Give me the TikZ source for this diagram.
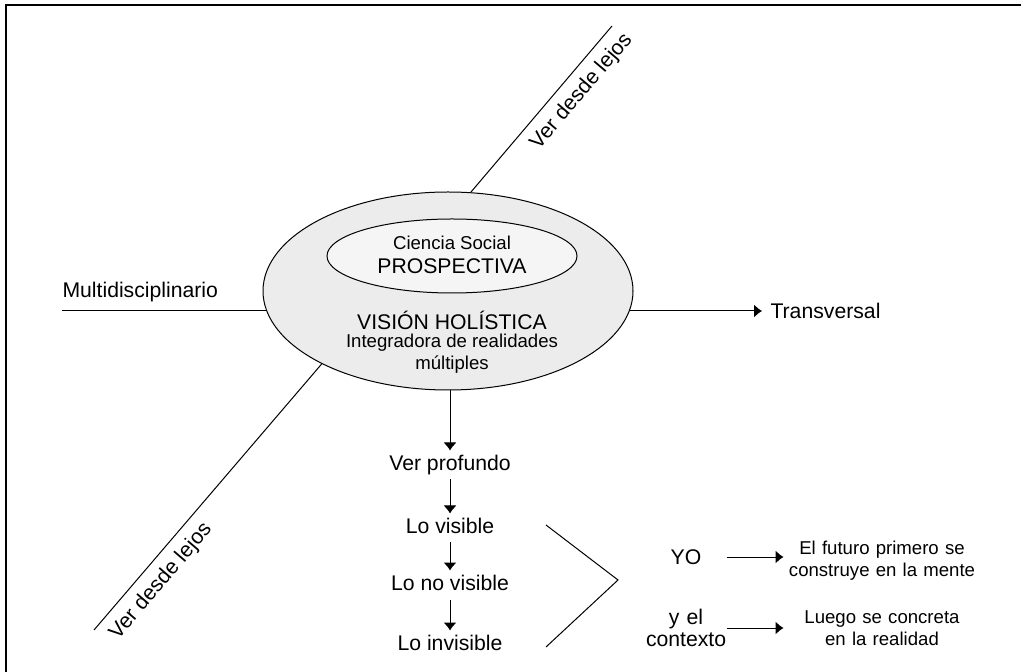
\documentclass[tikz,border=0pt]{standalone}
\usepackage{fontspec}
\setmainfont{Liberation Sans}
\usetikzlibrary{shapes.geometric,arrows.meta,calc}
\newcommand{\gross}{\fontsize{10.6}{10.8}\selectfont}
\newcommand{\klein}{\fontsize{9.3}{11}\selectfont}
\tikzset{
  outerell/.style = {ellipse, draw, fill=gray!15,
                     minimum width=185pt, minimum height=99pt, inner sep=0pt},
  innerell/.style = {ellipse, draw, fill=gray!8,
                     minimum width=125pt, minimum height=37pt, inner sep=0pt},
  big/.style      = {font=\gross, align=center, inner sep=0pt},
  small/.style    = {font=\klein, align=center, inner sep=0pt},
  colnode/.style  = {big, text height=7.8pt, text depth=2.2pt, inner ysep=2pt},
  side/.style     = {big, text width=40pt},
  result/.style   = {small, text width=98pt},
  arr/.style      = {-{Latex[length=4pt,width=6.5pt]}}
}

\begin{document}
\begin{tikzpicture}[x=0.5pt, y=-0.5pt, line width=0.5pt]
  \useasboundingbox (0,0) rectangle (1021,672);
  % frame
  \draw[line width=0.9pt] (1021,5) -- (6,5) -- (6,672);

  % the two ellipses
  \node[outerell] (holis) at (448,291) {};
  \node[innerell] (prosp) at (452,256) {};
  \node[small] (ciencia) at (452,243) {Ciencia Social};
  \node[big]   (prospectiva) at (452,266) {PROSPECTIVA};
  \node[big]   (vision) at (452,320) {VISIÓN HOLÍSTICA};
  \node[small] (integ) at (452,354) {Integradora de realidades\\múltiples};

  % side branches
  \coordinate (farup) at (612,26);
  \coordinate (fardown) at (94,630);
  \coordinate (multiend) at (62,311);
  \draw (holis.77) -- (farup)
    node[pos=0.68, below, sloped, font=\gross, inner sep=4.5pt] {Ver desde lejos};
  \draw (fardown) -- (holis.210)
    node[pos=0.23, below, sloped, font=\gross, inner sep=4.5pt] {Ver desde lejos};
  \node[big, anchor=west] (multi) at (62,292) {Multidisciplinario};
  \draw (multiend) -- (multiend -| holis.186);
  \node[big, anchor=west, inner xsep=4pt] (trans) at (762,311) {Transversal};
  \draw[arr] (trans.west -| holis.354) -- (trans.west);

  % looking deep
  \node[colnode] (prof) at (450,465) {Ver profundo};
  \node[colnode] (visible) at (450,528) {Lo visible};
  \node[colnode] (novisible) at (450,585) {Lo no visible};
  \node[colnode] (invisible) at (450,645) {Lo invisible};
  \draw[arr] (prof.north |- holis.south) -- (prof.north);
  \draw[arr] (prof) -- (visible);
  \draw[arr] (visible) -- (novisible);
  \draw[arr] (novisible) -- (invisible);

  % bracket
  \coordinate (brtop) at (546,525);
  \coordinate (brtip) at (618,580);
  \coordinate (brbot) at (546,647);
  \draw (brtop) -- (brtip) -- (brbot);

  % results
  \node[side] (yo) at (686,557) {YO};
  \node[side] (ctx) at (686,628) {y el\\contexto};
  \node[result] (futuro) at (882,561) {El futuro primero se\\construye en la mente};
  \node[result] (luego) at (882,628) {Luego se concreta\\en la realidad};
  \draw[arr] (yo.east) -- (yo.east -| futuro.west);
  \draw[arr] (ctx.east) -- (ctx.east -| luego.west);
\end{tikzpicture}
\end{document}
